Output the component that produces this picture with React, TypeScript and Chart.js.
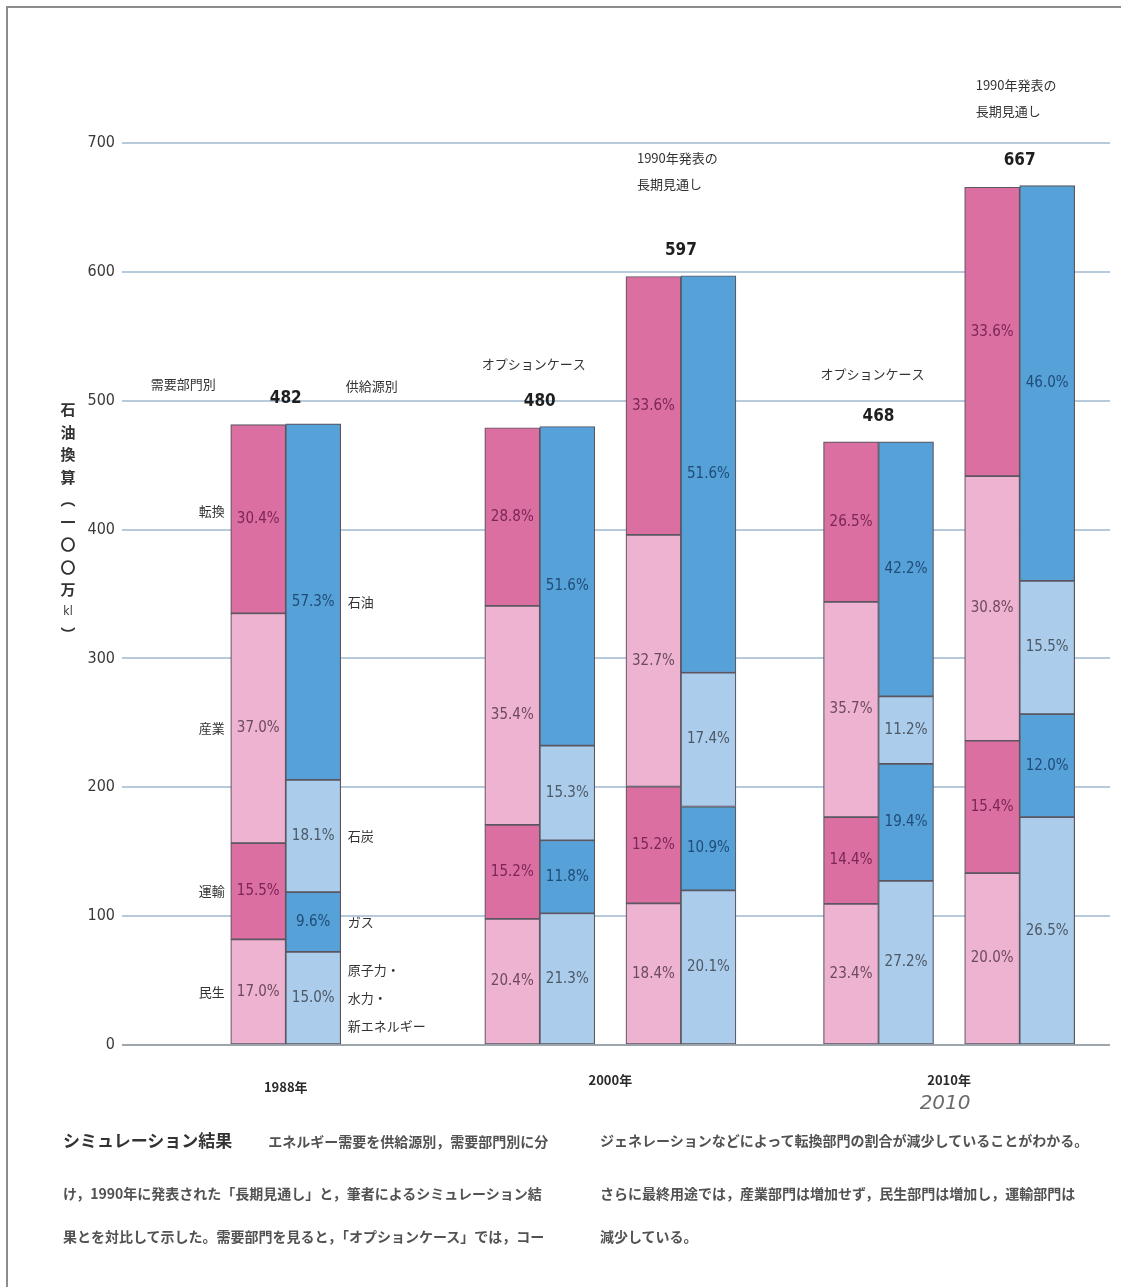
import React, { useEffect, useRef } from "react";
import { Chart, registerables } from "chart.js";

Chart.register(...registerables);

// ---- data -------------------------------------------------------------
// Total primary energy supply (million kl oil equivalent)
const CASES = [
  "1988年",
  "2000年 オプションケース",
  "2000年 1990年発表の長期見通し",
  "2010年 オプションケース",
  "2010年 1990年発表の長期見通し",
];
const TOTALS = [482, 480, 597, 468, 667];

// Demand by sector, share of total (%), stacked bottom to top
const DEMAND_SECTORS = ["民生", "運輸", "産業", "転換"];
const DEMAND_MINSEI = [17.0, 20.4, 18.4, 23.4, 20.0];
const DEMAND_UNYU = [15.5, 15.2, 15.2, 14.4, 15.4];
const DEMAND_SANGYO = [37.0, 35.4, 32.7, 35.7, 30.8];
const DEMAND_TENKAN = [30.4, 28.8, 33.6, 26.5, 33.6];

// Supply by source, share of total (%), stacked bottom to top
const SUPPLY_SOURCES = ["原子力・水力・新エネルギー", "ガス", "石炭", "石油"];
const SUPPLY_NUCLEAR_HYDRO_NEW = [15.0, 21.3, 20.1, 27.2, 26.5];
const SUPPLY_GAS = [9.6, 11.8, 10.9, 19.4, 12.0];
const SUPPLY_COAL = [18.1, 15.3, 17.4, 11.2, 15.5];
const SUPPLY_OIL = [57.3, 51.6, 51.6, 42.2, 46.0];

const Y_MAX = 700;
const Y_STEP = 100;
const YEAR_LABELS = ["1988年", "2000年", "2010年"];
const CASE_NOTES = ["", "オプションケース", "1990年発表の\n長期見通し", "オプションケース", "1990年発表の\n長期見通し"];
const Y_TITLE = ["石", "油", "換", "算", "︵", "一", "〇", "〇", "万", "kl", "︶"];

// ---- layout (slot positions along the horizontal axis) -----------------
const GROUP_SLOTS = [0, 9, 14, 21, 26];
const YEAR_SLOTS = [0, 11.5, 23.5];
const NOTE_LIFT = [0, 62, 92, 68, 74];
const X_MIN = -5.8;
const X_MAX = 29.2;

const PINK_DARK = "#dc6fa2";
const PINK_LIGHT = "#eeb3d1";
const BLUE_DARK = "#56a1d8";
const BLUE_LIGHT = "#abcdeb";
const EDGE = "#5b5660";

const NARROW = "'Liberation Sans Narrow', 'DejaVu Sans Condensed', 'Liberation Sans', sans-serif";
const JP = "'Noto Sans CJK JP', 'Noto Sans', sans-serif";

const DEMAND_PCT = [DEMAND_MINSEI, DEMAND_UNYU, DEMAND_SANGYO, DEMAND_TENKAN];
const SUPPLY_PCT = [SUPPLY_NUCLEAR_HYDRO_NEW, SUPPLY_GAS, SUPPLY_COAL, SUPPLY_OIL];

function buildDatasets() {
  const demand = DEMAND_SECTORS.map((name, k) => ({
    label: name,
    stack: "demand",
    pct: DEMAND_PCT[k],
    textColor: k % 2 === 1 ? "#7a2656" : "#6c4a5d",
    data: GROUP_SLOTS.map((s, i) => ({ x: s, y: (TOTALS[i] * DEMAND_PCT[k][i]) / 100 })),
    backgroundColor: k % 2 === 1 ? PINK_DARK : PINK_LIGHT,
  }));
  const supply = SUPPLY_SOURCES.map((name, k) => ({
    label: name,
    stack: "supply",
    pct: SUPPLY_PCT[k],
    textColor: k % 2 === 1 ? "#1f4c77" : "#4c5866",
    data: GROUP_SLOTS.map((s, i) => ({ x: s, y: (TOTALS[i] * SUPPLY_PCT[k][i]) / 100 })),
    backgroundColor: k % 2 === 1 ? BLUE_DARK : BLUE_LIGHT,
  }));
  return [...demand, ...supply].map((d) => ({
    ...d,
    borderColor: EDGE,
    borderWidth: 1.2,
    borderSkipped: false,
    barThickness: 55,
  }));
}

const annotationPlugin = {
  id: "energyAnnotations",
  afterDatasetsDraw(chart: any) {
    const ctx = chart.ctx as CanvasRenderingContext2D;
    const xs = chart.scales.x;
    const ys = chart.scales.y;
    ctx.save();
    ctx.textBaseline = "middle";

    // share labels inside each segment
    chart.data.datasets.forEach((ds: any, di: number) => {
      const meta = chart.getDatasetMeta(di);
      meta.data.forEach((bar: any, i: number) => {
        const p = bar.getProps(["x", "y", "base"], true);
        ctx.font = `15px ${NARROW}`;
        ctx.fillStyle = ds.textColor;
        ctx.textAlign = "center";
        ctx.fillText(ds.pct[i].toFixed(1) + "%", p.x, (p.y + p.base) / 2);
      });
    });

    // totals and case notes above each pair of bars
    TOTALS.forEach((t, i) => {
      const cx = xs.getPixelForValue(GROUP_SLOTS[i]);
      const top = ys.getPixelForValue(t);
      ctx.textAlign = "center";
      ctx.fillStyle = "#1e1e1e";
      ctx.font = `bold 17px ${NARROW}`;
      ctx.fillText(String(t), cx, top - 25);
      const note = CASE_NOTES[i];
      if (note) {
        ctx.fillStyle = "#333";
        ctx.font = `13px ${JP}`;
        const lines = note.split("\n");
        if (lines.length === 1) {
          ctx.textAlign = "center";
          ctx.fillText(lines[0], cx - 6, top - NOTE_LIFT[i]);
        } else {
          ctx.textAlign = "left";
          const left = cx - 44;
          ctx.fillText(lines[0], left, top - NOTE_LIFT[i] - 26);
          ctx.fillText(lines[1], left, top - NOTE_LIFT[i]);
        }
      }
    });

    // sector / source names beside the 1988 bars
    const demandMeta = DEMAND_SECTORS.map((_, k) => chart.getDatasetMeta(k));
    const supplyMeta = SUPPLY_SOURCES.map((_, k) => chart.getDatasetMeta(DEMAND_SECTORS.length + k));
    ctx.fillStyle = "#333";
    ctx.font = `13px ${JP}`;
    demandMeta.forEach((meta: any, k: number) => {
      const p = meta.data[0].getProps(["x", "y", "base", "width"], true);
      ctx.textAlign = "right";
      ctx.fillText(DEMAND_SECTORS[k], p.x - p.width / 2 - 6, (p.y + p.base) / 2 - (k === 3 ? 8 : 0));
    });
    supplyMeta.forEach((meta: any, k: number) => {
      const p = meta.data[0].getProps(["x", "y", "base", "width"], true);
      ctx.textAlign = "left";
      const mid = (p.y + p.base) / 2;
      const left = p.x + p.width / 2 + 7;
      const name = SUPPLY_SOURCES[k];
      if (name.includes("・")) {
        const parts = name.split("・");
        const lines = parts.map((s, j) => (j < parts.length - 1 ? s + "・" : s));
        lines.forEach((ln, j) => ctx.fillText(ln, left, mid + (j - 1) * 28));
      } else {
        ctx.fillText(name, left, mid);
      }
    });

    // column headings over the first pair
    {
      const cx = xs.getPixelForValue(GROUP_SLOTS[0]);
      const top = ys.getPixelForValue(TOTALS[0]);
      ctx.font = `13px ${JP}`;
      ctx.textAlign = "right";
      ctx.fillText("需要部門別", cx - 70, top - 40);
      ctx.textAlign = "left";
      ctx.fillText("供給源別", cx + 60, top - 38);
    }

    // year labels under the axis
    ctx.fillStyle = "#2a2a2a";
    ctx.font = `bold 13px ${JP}`;
    ctx.textAlign = "center";
    YEAR_LABELS.forEach((lab, i) => {
      const px = xs.getPixelForValue(YEAR_SLOTS[i]);
      ctx.fillText(lab, px, ys.bottom + (i === 0 ? 42 : 35));
    });
    ctx.fillStyle = "#6a6a6a";
    ctx.font = `italic 20px 'DejaVu Sans', sans-serif`;
    ctx.fillText("2010", xs.getPixelForValue(YEAR_SLOTS[2]) - 4, ys.bottom + 59);

    // vertical axis title, written top to bottom
    ctx.fillStyle = "#333";
    const tx = 68;
    let ty = ys.getPixelForValue(493);
    Y_TITLE.forEach((ch) => {
      ctx.font = ch === "kl" ? `12px ${NARROW}` : `bold 15px ${JP}`;
      ctx.textAlign = "center";
      ctx.fillText(ch, tx, ty);
      ty += 22.5;
    });

    ctx.restore();
  },
};

export default function App() {
  const canvasRef = useRef<HTMLCanvasElement | null>(null);

  useEffect(() => {
    if (!canvasRef.current) return;
    const chart = new Chart(canvasRef.current, {
      type: "bar",
      data: { datasets: buildDatasets() as any },
      options: {
        animation: false,
        responsive: false,
        devicePixelRatio: 1,
        layout: { padding: { top: 143, bottom: 242, left: 0, right: 17 } },
        plugins: { legend: { display: false }, tooltip: { enabled: false } },
        scales: {
          x: {
            type: "linear",
            min: X_MIN,
            max: X_MAX,
            offset: false,
            stacked: true,
            display: false,
          },
          y: {
            stacked: true,
            min: 0,
            max: Y_MAX,
            ticks: {
              stepSize: Y_STEP,
              padding: 7,
              color: "#3a3a3a",
              font: { family: NARROW, size: 16 },
            },
            grid: {
              drawTicks: false,
              lineWidth: 2,
              color: (c: any) => (c.tick && c.tick.value === 0 ? "#9ea6ad" : "#b6cadb"),
            },
            border: { display: false },
            afterFit: (axis: any) => {
              axis.width = 122;
            },
          },
        },
      } as any,
      plugins: [annotationPlugin],
    });
    return () => chart.destroy();
  }, []);

  const line = (top: number, left: number, content: React.ReactNode) => (
    <div
      style={{
        position: "absolute",
        top,
        left,
        whiteSpace: "nowrap",
        fontFamily: JP,
        fontSize: 14,
        lineHeight: "22px",
        color: "#525252",
        fontWeight: 700,
      }}
    >
      {content}
    </div>
  );

  return (
    <div
      style={{
        position: "absolute",
        left: 0,
        top: 0,
        width: 1127,
        height: 1287,
        background: "#ffffff",
        overflow: "hidden",
      }}
    >
      <div
        style={{
          position: "absolute",
          left: 6,
          top: 6,
          right: 6,
          bottom: -4,
          borderTop: "2px solid #8c8c8c",
          borderLeft: "2px solid #8c8c8c",
        }}
      />
      <canvas ref={canvasRef} width={1127} height={1287} style={{ position: "absolute", left: 0, top: 0 }} />
      {line(
        1129,
        63,
        <>
          <span style={{ fontSize: 17, fontWeight: 700, color: "#333" }}>シミュレーション結果</span>
          <span style={{ marginLeft: 36 }}>エネルギー需要を供給源別，需要部門別に分</span>
        </>
      )}
      {line(1182, 63, "け，1990年に発表された「長期見通し」と，筆者によるシミュレーション結")}
      {line(1225, 63, "果とを対比して示した。需要部門を見ると，「オプションケース」では，コー")}
      {line(1129, 600, "ジェネレーションなどによって転換部門の割合が減少していることがわかる。")}
      {line(1182, 600, "さらに最終用途では，産業部門は増加せず，民生部門は増加し，運輸部門は")}
      {line(1225, 600, "減少している。")}
    </div>
  );
}
